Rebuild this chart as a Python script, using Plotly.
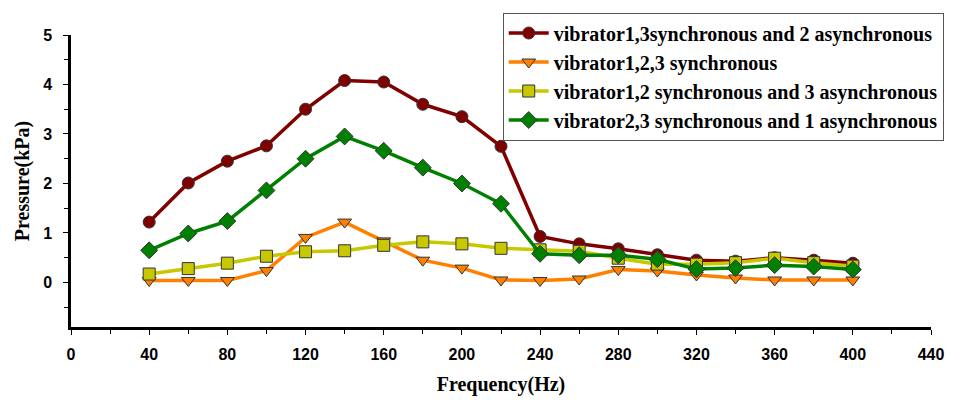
import plotly.graph_objects as go

freq = [40, 60, 80, 100, 120, 140, 160, 180, 200, 220, 240, 260, 280, 300, 320, 340, 360, 380, 400]

red_13sync_2async = [1.22, 2.01, 2.45, 2.76, 3.50, 4.08, 4.05, 3.60, 3.35, 2.75, 0.93, 0.78, 0.68, 0.56, 0.45, 0.43, 0.50, 0.45, 0.39]
orange_123sync = [0.04, 0.04, 0.04, 0.24, 0.91, 1.22, 0.84, 0.45, 0.29, 0.05, 0.04, 0.07, 0.26, 0.23, 0.15, 0.09, 0.05, 0.05, 0.05]
yellow_12sync_3async = [0.17, 0.28, 0.39, 0.53, 0.62, 0.64, 0.75, 0.82, 0.78, 0.69, 0.66, 0.63, 0.49, 0.37, 0.37, 0.40, 0.49, 0.40, 0.33]
green_23sync_1async = [0.65, 0.99, 1.24, 1.86, 2.50, 2.95, 2.66, 2.32, 2.00, 1.59, 0.58, 0.55, 0.55, 0.47, 0.27, 0.29, 0.35, 0.32, 0.26]

series = [
    ("vibrator1,3synchronous and 2 asynchronous", red_13sync_2async, "#800000", "circle"),
    ("vibrator1,2,3 synchronous", orange_123sync, "#FF8000", "triangle-down"),
    ("vibrator1,2 synchronous and 3 asynchronous", yellow_12sync_3async, "#C8C800", "square"),
    ("vibrator2,3 synchronous and 1 asynchronous", green_23sync_1async, "#008000", "diamond"),
]

x_ticks = [0, 40, 80, 120, 160, 200, 240, 280, 320, 360, 400, 440]
y_ticks = [0, 1, 2, 3, 4, 5]

fig = go.Figure()
for name, vals, color, sym in series:
    fig.add_trace(go.Scatter(
        x=freq, y=vals, name=f"<b>{name}</b>", mode="lines+markers",
        line=dict(color=color, width=3.5),
        marker=dict(symbol=sym, size=12 if sym != "diamond" else 13, color=color,
                    line=dict(color="#333333", width=1)),
    ))

serif = "Liberation Serif, Times New Roman, serif"
sans = "Liberation Sans, Arial, sans-serif"

fig.update_layout(
    width=973, height=404,
    margin=dict(l=71, r=42, t=28, b=77),
    paper_bgcolor="white", plot_bgcolor="white",
    showlegend=True,
    legend=dict(
        x=0.502, y=1.077, xanchor="left", yanchor="top",
        bgcolor="white", bordercolor="#555555", borderwidth=1,
        font=dict(family=serif, size=20, color="black"),
        tracegroupgap=0, itemwidth=40,
    ),
    xaxis=dict(
        range=[0, 440], tickvals=x_ticks, ticktext=[f"<b>{t}</b>" for t in x_ticks],
        showgrid=False, zeroline=False,
        showline=True, linecolor="black", linewidth=2.5,
        ticks="outside", ticklen=5, tickcolor="black", tickwidth=1,
        ticklabelstandoff=6,
        minor=dict(dtick=20, ticks="outside", ticklen=4, tickcolor="black"),
        tickfont=dict(family=sans, size=16, color="black"),
        title=dict(text="<b>Frequency(Hz)</b>", font=dict(family=serif, size=20, color="black"), standoff=16),
    ),
    yaxis=dict(
        range=[-0.9, 5], tickvals=y_ticks, ticktext=[f"<b>{t}</b>" for t in y_ticks],
        showgrid=False, zeroline=False,
        showline=True, linecolor="black", linewidth=2.5,
        ticks="outside", ticklen=5, tickcolor="black", tickwidth=1,
        ticklabelstandoff=8,
        minor=dict(tickvals=[-0.5, 0.5, 1.5, 2.5, 3.5, 4.5], ticks="outside", ticklen=4, tickcolor="black"),
        tickfont=dict(family=sans, size=16, color="black"),
        title=dict(text="<b>Pressure(kPa)</b>", font=dict(family=serif, size=20, color="black"), standoff=9),
    ),
)

fig.write_html("out.html")
